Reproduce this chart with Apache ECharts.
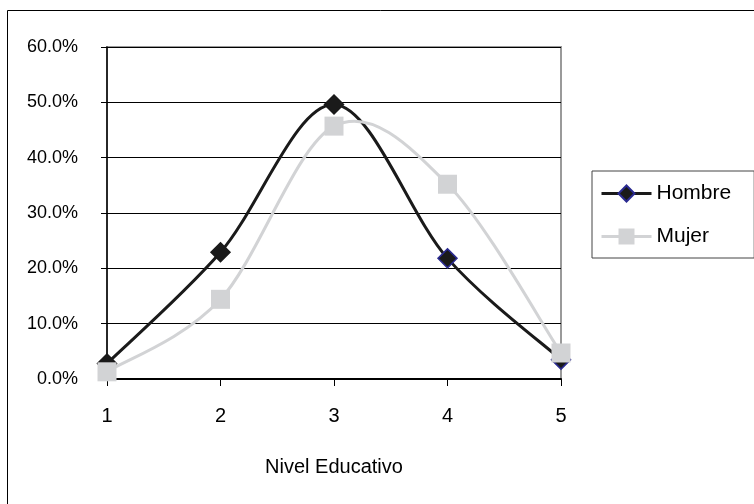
<!DOCTYPE html>
<html><head><meta charset="utf-8">
<script src="https://cdn.jsdelivr.net/npm/echarts@6/dist/echarts.min.js"></script>
<style>html,body{margin:0;padding:0;background:#fff}#c{width:754px;height:504px}</style>
</head><body><div id="c"></div>
<script>
const categories = ['1', '2', '3', '4', '5'];
const hombre = [0.028, 0.229, 0.496, 0.218, 0.035];
const mujer = [0.013, 0.144, 0.457, 0.352, 0.047];
const yTicks = [0, 0.1, 0.2, 0.3, 0.4, 0.5, 0.6];
const xTitle = 'Nivel Educativo';

const FONT = 'Liberation Sans, Arial, sans-serif';
const H_COLOR = '#1a1a1a';
const M_COLOR = '#d2d3d5';

// Smooth curve (Excel-like Catmull-Rom) drawn through the chart's own coordinate system
function curveSeries(name, values, color) {
  return {
    name: name, type: 'custom', silent: true, z: 2,
    data: values.map((v, i) => [i, v]),
    encode: {x: 0, y: 1},
    renderItem: function (params, api) {
      if (params.dataIndex !== 0) return null;
      const pts = values.map((v, i) => api.coord([i, v]));
      let d = 'M' + pts[0][0] + ' ' + pts[0][1];
      for (let i = 0; i < pts.length - 1; i++) {
        const p0 = pts[Math.max(i - 1, 0)], p1 = pts[i], p2 = pts[i + 1], p3 = pts[Math.min(i + 2, pts.length - 1)];
        const c1 = [p1[0] + (p2[0] - p0[0]) / 6, p1[1] + (p2[1] - p0[1]) / 6];
        const c2 = [p2[0] - (p3[0] - p1[0]) / 6, p2[1] - (p3[1] - p1[1]) / 6];
        d += ' C' + c1[0] + ' ' + c1[1] + ' ' + c2[0] + ' ' + c2[1] + ' ' + p2[0] + ' ' + p2[1];
      }
      return {type: 'path', shape: {pathData: d}, style: {fill: 'none', stroke: color, lineWidth: 3}};
    }
  };
}

const chart = echarts.init(document.getElementById('c'), null, {renderer: 'canvas'});
chart.setOption({
  backgroundColor: '#fff',
  animation: false,
  grid: {left: 107, right: 193, top: 47, bottom: 125, show: true, borderColor: '#9a9a9a', borderWidth: 2, backgroundColor: 'transparent'},
  legend: {
    orient: 'vertical', left: 592, top: 171,
    padding: [12, 23, 11, 8], itemGap: 22,
    itemWidth: 50, itemHeight: 20,
    borderColor: '#444', borderWidth: 1,
    textStyle: {fontFamily: FONT, fontSize: 21, color: '#000'},
    data: [
      {name: 'Hombre', lineStyle: {color: H_COLOR, width: 3, opacity: 1}},
      {name: 'Mujer', lineStyle: {color: M_COLOR, width: 3, opacity: 1}}
    ]
  },
  xAxis: {
    type: 'category', data: categories, boundaryGap: false,
    name: xTitle, nameLocation: 'middle', nameGap: 78,
    nameTextStyle: {fontFamily: FONT, fontSize: 20, color: '#000'},
    axisLine: {lineStyle: {color: '#000', width: 2}},
    axisTick: {show: true, length: 7, lineStyle: {color: '#000'}},
    axisLabel: {fontFamily: FONT, fontSize: 20, color: '#000', margin: 27}
  },
  yAxis: {
    type: 'value', min: yTicks[0], max: yTicks[yTicks.length - 1], interval: 0.1,
    axisLine: {show: true, lineStyle: {color: '#000', width: 1.5}},
    axisTick: {show: true, length: 6, lineStyle: {color: '#000'}},
    axisLabel: {fontFamily: FONT, fontSize: 18, color: '#000', margin: 29,
      formatter: v => (v * 100).toFixed(1) + '%'},
    splitLine: {lineStyle: {color: '#000', width: 1}}
  },
  graphic: [
    {type: 'line', shape: {x1: 7.5, y1: 10.5, x2: 754, y2: 10.5}, style: {stroke: '#000', lineWidth: 1}},
    {type: 'line', shape: {x1: 7.5, y1: 10.5, x2: 7.5, y2: 504}, style: {stroke: '#000', lineWidth: 1}}
  ],
  series: [
    curveSeries('Hombre-curva', hombre, H_COLOR),
    {
      name: 'Hombre', type: 'line', z: 3,
      symbol: 'diamond', symbolSize: 19,
      lineStyle: {color: H_COLOR, width: 3, opacity: 0},
      itemStyle: {color: H_COLOR, borderColor: '#2a2a90', borderWidth: 1.5},
      data: hombre.map((v, i) => i < 3 ? {value: v, itemStyle: {borderColor: H_COLOR}} : v)
    },
    Object.assign(curveSeries('Mujer-curva', mujer, M_COLOR), {z: 4}),
    {
      name: 'Mujer', type: 'line', z: 5,
      symbol: 'rect', symbolSize: 19,
      lineStyle: {color: M_COLOR, width: 3, opacity: 0},
      itemStyle: {color: M_COLOR, borderColor: M_COLOR, borderWidth: 0},
      data: mujer
    }
  ]
});
</script></body></html>
